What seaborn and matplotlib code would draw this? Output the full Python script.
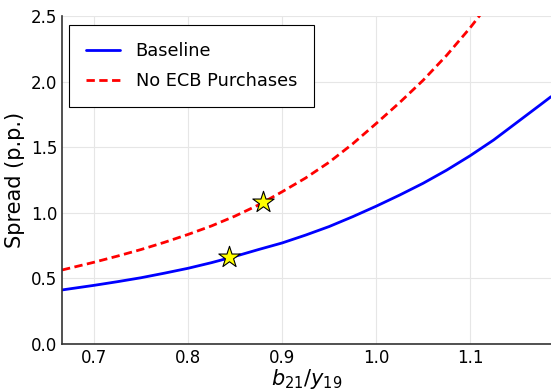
import numpy as np
import pandas as pd
import matplotlib
matplotlib.use("Agg")
import matplotlib.pyplot as plt
import seaborn as sns

# ── Data ──────────────────────────────────────────────────────────────────────
debt_ratio = [0.666, 0.70, 0.725, 0.75, 0.775, 0.80, 0.825, 0.85, 0.875, 0.90, 0.925,
              0.95, 0.975, 1.00, 1.025, 1.05, 1.075, 1.10, 1.125, 1.15, 1.175, 1.186]
spread_baseline = [0.412, 0.447, 0.475, 0.505, 0.54, 0.577, 0.62, 0.668, 0.72, 0.77, 0.83,
                   0.895, 0.97, 1.05, 1.135, 1.225, 1.325, 1.435, 1.555, 1.69, 1.825, 1.885]
spread_no_ecb = [0.564, 0.623, 0.67, 0.72, 0.775, 0.835, 0.90, 0.975, 1.06, 1.16, 1.265,
                 1.385, 1.525, 1.68, 1.84, 2.01, 2.20, 2.41, 2.64, 2.90, 3.17, 3.30]

star_x = [0.844, 0.88]
star_y = [0.661, 1.085]

xticks = [0.7, 0.8, 0.9, 1.0, 1.1]
yticks = [0.0, 0.5, 1.0, 1.5, 2.0, 2.5]

sns.set_style("white")
plt.rcParams["font.family"] = ["DejaVu Sans"]
plt.rcParams["text.color"] = "black"
plt.rcParams["axes.labelcolor"] = "black"

df = pd.DataFrame({
    "x": debt_ratio * 2,
    "y": spread_baseline + spread_no_ecb,
    "series": ["Baseline"] * len(debt_ratio) + ["No ECB Purchases"] * len(debt_ratio),
})

fig = plt.figure(figsize=(5.51, 3.92), dpi=100)
ax = fig.add_axes([62 / 551, 48 / 392, 489 / 551, 328 / 392])

sns.lineplot(data=df, x="x", y="y", hue="series", style="series",
             palette={"Baseline": "#0000FF", "No ECB Purchases": "#FF0000"},
             dashes={"Baseline": "", "No ECB Purchases": (3, 1.6)},
             linewidth=2, ax=ax, sort=False)
ax.scatter(star_x, star_y, marker="*", s=260, color="#FFFF00",
           edgecolor="black", linewidth=0.8, zorder=5)

ax.set_xlim(0.666, 1.186)
ax.set_ylim(0, 2.5)
ax.set_xticks(xticks)
ax.set_yticks(yticks)
ax.tick_params(direction="in", length=4, labelsize=12, colors="black")
ax.grid(True, color="#E6E6E6", linewidth=0.8)
for side in ["top", "right"]:
    ax.spines[side].set_visible(False)
for side in ["left", "bottom"]:
    ax.spines[side].set_color("#333333")
    ax.spines[side].set_linewidth(1.2)

ax.set_xlabel(r"$b_{21}/y_{19}$", fontsize=15, labelpad=0)
ax.set_ylabel("Spread (p.p.)", fontsize=15)

leg = ax.legend(loc="upper left", bbox_to_anchor=(0.014, 0.973), borderaxespad=0,
                fontsize=12.8, fancybox=False, edgecolor="black", framealpha=1,
                borderpad=0.95, labelspacing=0.7, handlelength=1.95, handletextpad=0.85)
leg.get_frame().set_linewidth(0.8)
leg.set_title(None)

fig.savefig("out.png", dpi=100)
